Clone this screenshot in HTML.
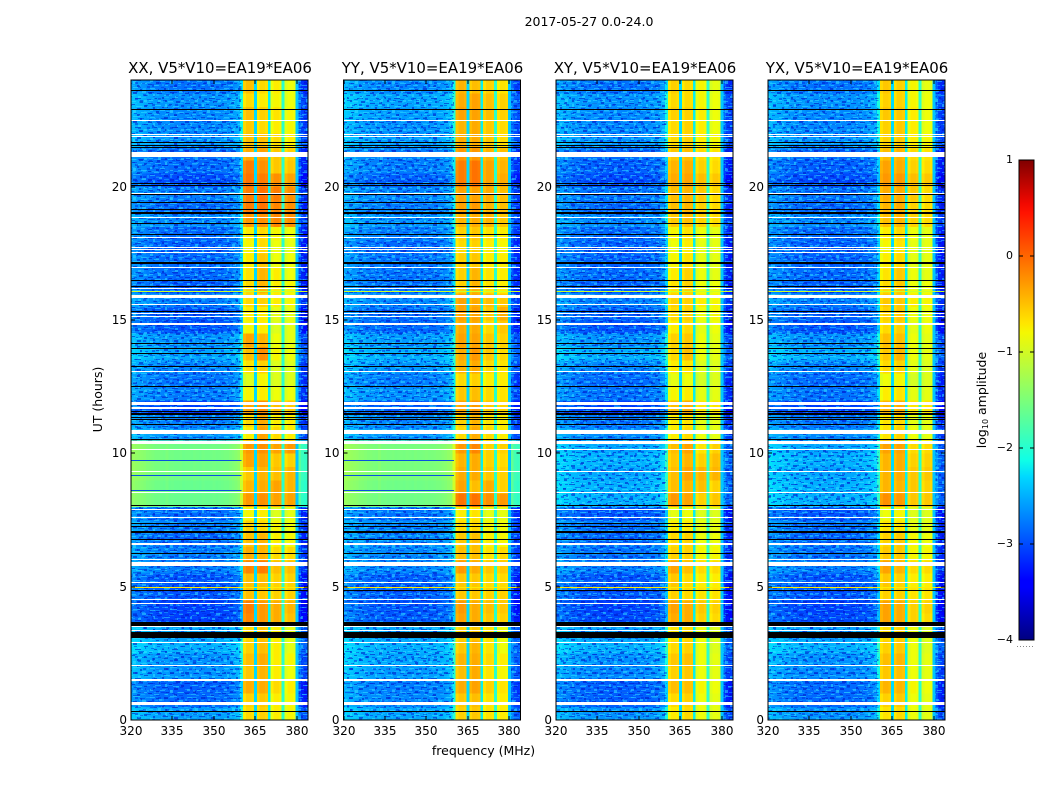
<!DOCTYPE html>
<html>
<head>
<meta charset="utf-8">
<title>2017-05-27 0.0-24.0</title>
<style>
html,body{margin:0;padding:0;background:#fff;width:1050px;height:800px;overflow:hidden}
svg{display:block}
text{font-family:"DejaVu Sans","Liberation Sans",sans-serif;fill:#000}
</style>
</head>
<body>
<svg id="figure" xmlns="http://www.w3.org/2000/svg" width="1050" height="800" viewBox="0 0 1050 800">
  <defs>
    <linearGradient id="jet" x1="0" y1="1" x2="0" y2="0">
      <stop offset="0" stop-color="#000080"/>
      <stop offset="0.11" stop-color="#0000ff"/>
      <stop offset="0.125" stop-color="#0000ff"/>
      <stop offset="0.34" stop-color="#00d8ff"/>
      <stop offset="0.375" stop-color="#10ffe6"/>
      <stop offset="0.5" stop-color="#7cff79"/>
      <stop offset="0.64" stop-color="#f4f802"/>
      <stop offset="0.66" stop-color="#ffe600"/>
      <stop offset="0.89" stop-color="#ff1300"/>
      <stop offset="0.91" stop-color="#f10800"/>
      <stop offset="1" stop-color="#800000"/>
    </linearGradient>
    <pattern id="grainA" patternUnits="userSpaceOnUse" width="37" height="29">
      <path shape-rendering="crispEdges" fill="#35e6ff" fill-opacity=".5" d="M2 1h5v1h-5zM11 3h3v2h-3zM22 0h7v1h-7zM31 4h4v2h-4zM5 7h2v3h-2zM16 8h6v1h-6zM27 9h3v2h-3zM1 13h4v1h-4zM10 12h3v3h-3zM20 14h5v1h-5zM33 13h3v2h-3zM7 18h6v1h-6zM17 17h2v3h-2zM25 19h6v1h-6zM2 22h3v2h-3zM12 23h5v1h-5zM22 23h3v3h-3zM30 25h6v1h-6zM6 27h5v1h-5zM17 27h3v1h-3z"/>
      <path shape-rendering="crispEdges" fill="#0010c0" fill-opacity=".55" d="M8 2h3v1h-3zM16 1h4v2h-4zM29 2h2v2h-2zM0 5h4v2h-4zM9 6h5v1h-5zM22 5h4v2h-4zM33 8h4v1h-4zM14 10h2v2h-2zM6 11h3v1h-3zM24 11h6v1h-6zM17 13h2v2h-2zM28 14h4v2h-4zM0 16h5v1h-5zM9 15h3v2h-3zM21 17h3v1h-3zM33 18h3v2h-3zM5 20h2v2h-2zM14 20h6v1h-6zM26 21h4v2h-4zM8 24h3v2h-3zM18 25h3v1h-3zM0 26h4v1h-4zM26 27h3v2h-3z"/>
    </pattern>
    <pattern id="grainB" patternUnits="userSpaceOnUse" width="23" height="41">
      <path shape-rendering="crispEdges" fill="#20c8ff" fill-opacity=".4" d="M1 2h2v2h-2zM8 0h5v1h-5zM17 3h3v1h-3zM5 6h3v2h-3zM13 7h7v1h-7zM0 10h4v1h-4zM9 11h2v3h-2zM18 12h3v2h-3zM3 15h5v1h-5zM14 16h3v1h-3zM0 19h2v2h-2zM7 20h6v1h-6zM17 21h5v1h-5zM3 24h3v2h-3zM11 25h3v1h-3zM19 26h2v2h-2zM6 29h6v1h-6zM15 30h3v2h-3zM1 33h4v1h-4zM9 34h2v2h-2zM16 36h6v1h-6zM3 38h4v1h-4zM12 39h3v1h-3z"/>
      <path shape-rendering="crispEdges" fill="#0028e0" fill-opacity=".5" d="M4 1h3v1h-3zM14 2h2v3h-2zM20 0h3v2h-3zM0 5h3v1h-3zM9 4h3v2h-3zM2 8h2v1h-2zM21 9h2v1h-2zM12 10h4v1h-4zM5 12h3v2h-3zM15 14h2v1h-2zM20 16h3v2h-3zM9 17h4v1h-4zM2 18h3v1h-3zM14 22h3v2h-3zM7 23h3v1h-3zM0 27h5v1h-5zM12 27h5v1h-5zM19 31h3v1h-3zM7 32h1v2h-1zM13 33h3v1h-3zM0 36h6v1h-6zM11 37h3v1h-3zM18 39h4v1h-4z"/>
    </pattern>
  </defs>
  <text x="589" y="26" font-size="12.5" text-anchor="middle">2017-05-27 0.0-24.0</text>
  <text x="483.5" y="755" font-size="12.5" text-anchor="middle">frequency (MHz)</text>
  <text x="102" y="399.5" font-size="12.5" text-anchor="middle" transform="rotate(-90 102 399.5)">UT (hours)</text>
  <g id="panels"></g>
  <g id="colorbar">
    <rect x="1019" y="160" width="15" height="480" fill="url(#jet)"/>
  </g>
  <text x="986" y="400" font-size="12.5" text-anchor="middle" transform="rotate(-90 986 400)">log<tspan font-size="8" dy="2">10</tspan><tspan dy="-2"> amplitude</tspan></text>
</svg>
<script>
// Axis tick labels
const freqTicks = [320, 335, 350, 365, 380];
const timeTicks = [0, 5, 10, 15, 20];
const colorbarTicks = [1, 0, -1, -2, -3, -4];

// Panel titles
const panelNames = ["XX", "YY", "XY", "YX"];
const panelSuffix = ", V5*V10=EA19*EA06";

// Per half-hour rows (UT 0.0 upward): [out-of-band log amp, 360-365, 365-370, 370-375, 375-380 MHz]
const xxLevels = [
[-2.45,-.6,-.55,-.7,-.75],[-2.7,-.55,-.5,-.7,-.75],[-2.75,-.35,-.35,-.6,-.7],[-2.5,-.5,-.4,-.7,-.8],
[-2.5,-.45,-.35,-.7,-.75],[-2.35,-.55,-.45,-.7,-.85],[-2.4,-.6,-.5,-.7,-.85],[-2.9,-.15,-.25,-.35,-.45],
[-2.9,-.1,-.25,-.35,-.4],[-2.8,-.45,-.5,-.55,-.55],[-2.8,-.45,-.45,-.55,-.55],[-2.6,-.15,-.1,-.45,-.45],
[-2.6,-.35,-.4,-.6,-.6],[-2.7,-.45,-.4,-.7,-.75],[-2.6,-.55,-.6,-.75,-.8],[-2.7,-.75,-.7,-.9,-.85],
[-1.45,-.25,-.2,-.3,-.3],[-1.45,-.4,-.35,-.3,-.4],[-1.4,-.5,-.4,-.45,-.4],[-1.4,-.3,-.3,-.5,-.55],
[-1.4,-.25,-.2,-.3,-.25],[-2.5,-.7,-.3,-.6,-.7],[-2.6,-.6,-.35,-.7,-.7],[-2.9,-.3,-.2,-.45,-.5],
[-2.6,-.75,-.7,-.8,-.8],[-2.65,-.9,-.75,-.9,-.9],[-2.55,-.65,-.55,-.9,-.9],[-2.4,-.45,-.2,-.75,-.8],
[-2.5,-.3,-.4,-.8,-.85],[-2.8,-.75,-.7,-.9,-.85],[-2.8,-.7,-.7,-.85,-.85],[-2.6,-.6,-.55,-.7,-.75],
[-2.75,-.6,-.4,-.7,-.75],[-2.7,-.65,-.4,-.7,-.8],[-2.7,-.7,-.5,-.8,-.8],[-2.75,-.75,-.6,-.8,-.85],
[-2.7,-.7,-.6,-.75,-.8],[-2.55,-.25,-.2,-.15,-.2],[-2.7,-.1,-.05,-.15,-.2],[-2.6,-.1,-.05,-.1,-.2],
[-2.85,-.05,-.1,-.2,-.3],[-2.7,-.1,-.2,-.5,-.5],[-2.7,-.35,-.3,-.5,-.55],[-2.5,-.45,-.45,-.6,-.7],
[-2.55,-.5,-.6,-.7,-.75],[-2.55,-.45,-.55,-.65,-.75],[-2.5,-.6,-.7,-.75,-.8],[-2.65,-.45,-.6,-.7,-.8]
];
const yyLevels = [
[-2.4,-.55,-.5,-.65,-.7],[-2.55,-.5,-.45,-.65,-.7],[-2.6,-.35,-.3,-.55,-.65],[-2.45,-.45,-.35,-.65,-.75],
[-2.4,-.4,-.35,-.6,-.7],[-2.35,-.5,-.4,-.65,-.8],[-2.4,-.55,-.5,-.65,-.8],[-2.75,-.3,-.35,-.5,-.55],
[-2.8,-.25,-.35,-.45,-.5],[-2.75,-.5,-.5,-.55,-.55],[-2.75,-.5,-.5,-.6,-.6],[-2.55,-.25,-.35,-.5,-.5],
[-2.55,-.45,-.45,-.65,-.6],[-2.55,-.5,-.45,-.7,-.75],[-2.55,-.6,-.6,-.75,-.8],[-2.65,-.7,-.65,-.85,-.85],
[-1.4,-.05,-.05,-.2,-.25],[-1.4,-.3,-.45,-.35,-.55],[-1.35,-.35,-.35,-.5,-.55],[-1.35,-.4,-.35,-.55,-.6],
[-1.35,-.25,-.15,-.55,-.55],[-2.5,-.6,-.35,-.6,-.7],[-2.55,-.55,-.4,-.65,-.7],[-2.75,-.3,-.25,-.5,-.55],
[-2.5,-.5,-.45,-.6,-.65],[-2.6,-.6,-.55,-.7,-.7],[-2.45,-.4,-.35,-.6,-.65],[-2.35,-.35,-.25,-.5,-.6],
[-2.45,-.3,-.3,-.5,-.55],[-2.7,-.35,-.35,-.6,-.5],[-2.7,-.3,-.3,-.5,-.35],[-2.55,-.3,-.35,-.45,-.5],
[-2.65,-.55,-.4,-.65,-.7],[-2.65,-.55,-.4,-.65,-.7],[-2.65,-.55,-.5,-.7,-.7],[-2.7,-.6,-.55,-.7,-.75],
[-2.6,-.55,-.5,-.65,-.7],[-2.5,-.4,-.35,-.4,-.5],[-2.6,-.3,-.25,-.4,-.45],[-2.55,-.3,-.3,-.35,-.45],
[-2.75,-.1,-.05,-.3,-.35],[-2.6,-.1,-.05,-.3,-.4],[-2.6,-.25,-.25,-.4,-.45],[-2.45,-.35,-.35,-.5,-.6],
[-2.5,-.4,-.35,-.5,-.6],[-2.45,-.3,-.3,-.45,-.55],[-2.4,-.35,-.3,-.45,-.55],[-2.55,-.4,-.45,-.55,-.65]
];
const xyLevels = [
[-2.5,-.7,-.6,-.8,-.85],[-2.75,-.6,-.55,-.8,-.85],[-2.75,-.45,-.45,-.75,-.8],[-2.55,-.55,-.5,-.8,-.85],
[-2.5,-.5,-.45,-.8,-.85],[-2.35,-.6,-.55,-.8,-.9],[-2.45,-.65,-.6,-.8,-.9],[-2.85,-.35,-.35,-.55,-.6],
[-2.9,-.3,-.35,-.5,-.55],[-2.8,-.55,-.6,-.65,-.65],[-2.8,-.5,-.6,-.7,-.7],[-2.6,-.3,-.45,-.6,-.6],
[-2.65,-.55,-.55,-.75,-.75],[-2.7,-.6,-.55,-.8,-.8],[-2.65,-.7,-.7,-.85,-.85],[-2.8,-.85,-.8,-.9,-.9],
[-2.35,-.25,-.3,-.55,-.5],[-2.35,-.45,-.4,-.45,-.55],[-2.4,-.45,-.3,-.4,-.4],[-2.35,-.5,-.4,-.55,-.45],
[-2.4,-.45,-.3,-.65,-.55],[-2.55,-.7,-.6,-.8,-.85],[-2.65,-.7,-.65,-.85,-.85],[-2.9,-.45,-.35,-.65,-.65],
[-2.65,-.75,-.7,-.85,-.85],[-2.7,-.85,-.8,-.95,-.9],[-2.55,-.7,-.65,-.9,-.9],[-2.35,-.6,-.45,-.8,-.85],
[-2.5,-.55,-.5,-.8,-.85],[-2.8,-.7,-.6,-.85,-.8],[-2.75,-.6,-.55,-.8,-.75],[-2.6,-.55,-.55,-.7,-.75],
[-2.75,-.65,-.55,-.8,-.8],[-2.7,-.7,-.55,-.8,-.85],[-2.75,-.75,-.65,-.85,-.85],[-2.75,-.8,-.7,-.85,-.85],
[-2.7,-.75,-.65,-.8,-.85],[-2.55,-.5,-.45,-.55,-.6],[-2.7,-.45,-.4,-.55,-.6],[-2.65,-.45,-.4,-.5,-.6],
[-2.85,-.35,-.3,-.45,-.5],[-2.75,-.4,-.35,-.55,-.6],[-2.7,-.5,-.45,-.6,-.65],[-2.5,-.6,-.55,-.7,-.75],
[-2.55,-.6,-.55,-.7,-.8],[-2.55,-.55,-.55,-.7,-.8],[-2.5,-.6,-.6,-.75,-.8],[-2.65,-.55,-.6,-.75,-.85]
];
const yxLevels = [
[-2.5,-.65,-.6,-.8,-.85],[-2.7,-.55,-.5,-.8,-.85],[-2.7,-.4,-.4,-.75,-.8],[-2.55,-.5,-.45,-.8,-.85],
[-2.5,-.45,-.4,-.8,-.85],[-2.35,-.55,-.5,-.8,-.9],[-2.45,-.6,-.55,-.8,-.9],[-2.85,-.3,-.35,-.55,-.6],
[-2.9,-.3,-.35,-.55,-.55],[-2.8,-.55,-.55,-.65,-.65],[-2.8,-.5,-.55,-.7,-.7],[-2.6,-.3,-.4,-.6,-.6],
[-2.65,-.5,-.5,-.75,-.75],[-2.7,-.55,-.5,-.75,-.8],[-2.65,-.65,-.65,-.85,-.85],[-2.8,-.8,-.75,-.9,-.9],
[-2.35,-.2,-.25,-.5,-.5],[-2.35,-.4,-.4,-.5,-.55],[-2.4,-.4,-.35,-.5,-.5],[-2.35,-.4,-.35,-.55,-.55],
[-2.4,-.3,-.3,-.6,-.6],[-2.55,-.65,-.55,-.8,-.85],[-2.65,-.65,-.6,-.85,-.85],[-2.9,-.4,-.35,-.65,-.65],
[-2.65,-.7,-.65,-.85,-.85],[-2.7,-.8,-.75,-.95,-.9],[-2.55,-.6,-.55,-.85,-.9],[-2.35,-.5,-.4,-.8,-.85],
[-2.5,-.45,-.45,-.8,-.85],[-2.8,-.6,-.55,-.85,-.8],[-2.75,-.55,-.5,-.8,-.8],[-2.6,-.5,-.5,-.7,-.75],
[-2.75,-.6,-.5,-.8,-.8],[-2.7,-.65,-.5,-.8,-.85],[-2.75,-.7,-.6,-.85,-.85],[-2.75,-.75,-.65,-.85,-.85],
[-2.7,-.7,-.6,-.8,-.85],[-2.55,-.45,-.4,-.55,-.6],[-2.7,-.4,-.35,-.55,-.6],[-2.65,-.35,-.35,-.5,-.6],
[-2.85,-.25,-.25,-.45,-.5],[-2.75,-.3,-.35,-.55,-.6],[-2.7,-.45,-.4,-.6,-.65],[-2.5,-.55,-.5,-.7,-.75],
[-2.55,-.55,-.5,-.7,-.8],[-2.55,-.5,-.5,-.7,-.8],[-2.5,-.55,-.55,-.75,-.8],[-2.65,-.5,-.55,-.75,-.85]
];

// Column offsets from the row level, one per MHz for 320..360
const lowBandShape = [.06,.08,.04,.02,0,-.02,-.06,-.07,-.09,-.12,-.12,-.14,-.15,-.1,-.16,-.15,-.17,-.17,-.16,-.18,-.17,-.17,-.18,-.16,-.17,-.18,-.15,-.17,-.17,-.16,-.14,-.16,-.15,-.14,-.12,-.12,-.09,-.06,-.02,.04,.4];
// Offsets for 381..384 MHz
const highBandShape = [-.3,-.5,-.55,-.5];
// Offsets across the four channels inside each sub-band (roll-off at the edges)
const subBandShape = [-.1, 0, 0, -.04];
// Log amplitude of the narrow notches between sub-bands
const notchFreqs = [365, 370, 375, 380];
const notchLevels = [-2.3, -2.2, -2.0, -2.4];

// Flagged time ranges, UT hours [start, end]
const whiteFlags = [[.58,.66],[1.46,1.52],[2.02,2.06],[2.87,2.91],[3.34,3.38],[3.5,3.53],[4.35,4.39],[4.51,4.55],[5.12,5.16],[5.77,5.92],[6.0,6.04],[6.58,6.62],[7.58,7.62],[7.86,7.9],[8.51,8.55],[9.3,9.34],[10.11,10.15],[10.35,10.45],[10.74,10.89],[11.68,11.72],[11.8,11.92],[13.05,13.09],[14.83,14.87],[15.12,15.16],[15.21,15.25],[15.56,15.6],[15.83,15.95],[16.15,16.19],[16.96,17],[17.5,17.54],[17.61,17.65],[17.71,17.75],[18.06,18.1],[18.82,18.88],[19.71,19.75],[21.1,21.29],[21.85,21.89],[21.93,21.97],[22.45,22.49]];
const blackFlags = [[.3,.33],[3.08,3.29],[3.53,3.69],[4.85,4.88],[6.24,6.27],[6.76,6.79],[7.03,7.07],[7.26,7.29],[7.37,7.4],[8.01,8.08],[10.49,10.52],[11.08,11.11],[11.27,11.3],[11.35,11.38],[11.43,11.46],[11.5,11.53],[11.57,11.6],[12.47,12.53],[13.24,13.27],[13.74,13.78],[13.93,13.96],[14.09,14.12],[15.31,15.34],[16.24,16.27],[16.47,16.5],[17.09,17.12],[17.16,17.19],[18.18,18.21],[18.59,18.62],[18.97,19],[19.03,19.06],[19.12,19.15],[19.38,19.41],[19.68,19.71],[20.04,20.07],[20.12,20.15],[21.47,21.5],[21.53,21.56],[21.63,21.66],[22.89,22.92],[23.59,23.62]];
// Weak dropouts in the XX and YY elevated-noise stretch, UT hours
const dropoutRows = [8.63, 9.19, 9.76];
// Single hot time rows: UT hour and log amplitude
const hotRowTimes = [5.0, 16.08];
const hotRowLevels = [-.7, -1.0];

const panelLevels = [xxLevels, yyLevels, xyLevels, yxLevels];
const panelLefts = [131, 343.5, 556, 768];
const PW = 177, PT = 80, PB = 720, ROW_H = 0.5;
const NS = "http://www.w3.org/2000/svg";
const FMIN = 320, FMAX = 384, TMAX = 24;
const NOISY_BELOW = -2;

function svgEl(tag, attrs, parent) {
  const e = document.createElementNS(NS, tag);
  for (const k in attrs) e.setAttribute(k, attrs[k]);
  parent.appendChild(e);
  return e;
}
function yScale(h) { return PB - h * (PB - PT) / TMAX; }
function xScaleFor(left) { return function (f) { return left + (f - FMIN) * PW / (FMAX - FMIN); }; }
function clamp01(v) { return Math.max(0, Math.min(1, v)); }
function jet(v) {
  const t = clamp01((v + 4) / 5);
  let r, g, b;
  r = t < .35 ? 0 : t < .66 ? (t - .35) / .31 : t < .89 ? 1 : 1 - (t - .89) / .11 * .5;
  g = t < .125 ? 0 : t < .375 ? (t - .125) / .25 : t < .64 ? 1 : t < .91 ? 1 - (t - .64) / .27 : 0;
  b = t < .11 ? .5 + t / .11 * .5 : t < .34 ? 1 : t < .65 ? 1 - (t - .34) / .31 : 0;
  return "rgb(" + Math.round(r * 255) + "," + Math.round(g * 255) + "," + Math.round(b * 255) + ")";
}
function cellValue(row, f) {
  const n = notchFreqs.indexOf(f);
  if (n >= 0) return notchLevels[n];
  if (f <= 360) return row[0] + lowBandShape[f - 320];
  if (f > 380) return row[0] + highBandShape[f - 381];
  const sub = row[1 + Math.floor((f - 361) / 5)];
  return sub + subBandShape[(f - 361) % 5];
}

const panelsRoot = document.getElementById("panels");
panelNames.forEach(function (name, p) {
  const left = panelLefts[p];
  const x = xScaleFor(left);
  const levels = panelLevels[p];
  const g = svgEl("g", {}, panelsRoot);
  
  

  const clipId = "clip" + p;
  const clip = svgEl("clipPath", { id: clipId }, g);
  svgEl("rect", { x: left, y: PT, width: PW, height: PB - PT }, clip);

  const cells = svgEl("g", { "clip-path": "url(#" + clipId + ")", "shape-rendering": "crispEdges" }, g);
  
  
  levels.forEach(function (row, k) {
    const y0 = yScale((k + 1) * ROW_H), y1 = yScale(k * ROW_H);
    for (let f = FMIN; f <= FMAX; f++) {
      const x0 = x(f - .5), x1 = x(f + .5);
      const c = svgEl("rect", { x: x0.toFixed(2), y: y0.toFixed(2), width: (x1 - x0 + .4).toFixed(2), height: (y1 - y0 + .4).toFixed(2), fill: jet(cellValue(row, f)) }, cells);
      
      
    }
    if (row[0] < NOISY_BELOW) {
      [[x(319.5), x(360)], [x(380.5), x(384.5)]].forEach(function (span) {
        ["grainA", "grainB"].forEach(function (id) {
          const n = svgEl("rect", { x: span[0].toFixed(2), y: y0.toFixed(2), width: (span[1] - span[0]).toFixed(2), height: (y1 - y0 + .4).toFixed(2), fill: "url(#" + id + ")" }, cells);
          
          
        });
      });
    }
  });

  if (p < 2) {
    dropoutRows.forEach(function (h) {
      const r = svgEl("rect", { x: left, y: Math.round(yScale(h)), width: x(360) - left, height: 1, fill: "#0a50e0" }, cells);
      
      
    });
  }
  hotRowTimes.forEach(function (h, i) {
    const r = svgEl("rect", { x: left, y: Math.round(yScale(h)), width: PW, height: 1, fill: jet(hotRowLevels[i]) }, cells);
    
    
  });
  function drawFlags(list, color, label) {
    list.forEach(function (fl) {
      const y0 = Math.round(yScale(fl[1]));
      const h = Math.max(1, Math.round(yScale(fl[0])) - y0);
      const r = svgEl("rect", { x: left, y: y0, width: PW, height: h, fill: color }, cells);
      
      
    });
  }
  drawFlags(whiteFlags, "#ffffff", "white-flag");
  drawFlags(blackFlags, "#000000", "black-flag");

  const frame = svgEl("rect", { x: left, y: PT, width: PW, height: PB - PT, fill: "none", stroke: "#000", "stroke-width": 1, "shape-rendering": "crispEdges" }, g);
  
  

  freqTicks.forEach(function (f) {
    const px = Math.round(x(f));
    const t = svgEl("path", { d: "M" + px + " " + PB + "v-4M" + px + " " + PT + "v4", stroke: "#000", fill: "none", "shape-rendering": "crispEdges" }, g);
    
    
    const l = svgEl("text", { x: px, y: 735, "font-size": 12, "text-anchor": "middle" }, g);
    l.textContent = f;
    
    
  });
  timeTicks.forEach(function (h) {
    const py = Math.round(yScale(h));
    const t = svgEl("path", { d: "M" + left + " " + py + "h4M" + (left + PW) + " " + py + "h-4", stroke: "#000", fill: "none", "shape-rendering": "crispEdges" }, g);
    
    
    const l = svgEl("text", { x: left - 4, y: py + 4, "font-size": 12, "text-anchor": "end" }, g);
    l.textContent = h;
    
    
  });
  const title = svgEl("text", { x: left + PW / 2 + .5, y: 73, "font-size": 14.95, "text-anchor": "middle" }, g);
  title.textContent = name + panelSuffix;
  
  
});

const cb = document.getElementById("colorbar");
function cbScale(v) { return 640 - (v + 4) * 480 / 5; }
const cbFrame = svgEl("rect", { x: 1019, y: 160, width: 15, height: 480, fill: "none", stroke: "#000", "stroke-width": 1, "shape-rendering": "crispEdges" }, cb);


colorbarTicks.forEach(function (v) {
  const py = Math.round(cbScale(v));
  const t = svgEl("path", { d: "M1019 " + py + "h4M1034 " + py + "h-4", stroke: "#000", fill: "none", "shape-rendering": "crispEdges" }, cb);
  
  
  const l = svgEl("text", { x: 1013, y: py + 3, "font-size": 11, "text-anchor": "end" }, cb);
  l.textContent = String(v).replace("-", "\u2212");
  
  
});
const cbDots = svgEl("line", { x1: 1017, y1: 646.5, x2: 1035, y2: 646.5, stroke: "#888", "stroke-width": 1, "stroke-dasharray": "1 2" }, cb);


</script>
</body>
</html>
